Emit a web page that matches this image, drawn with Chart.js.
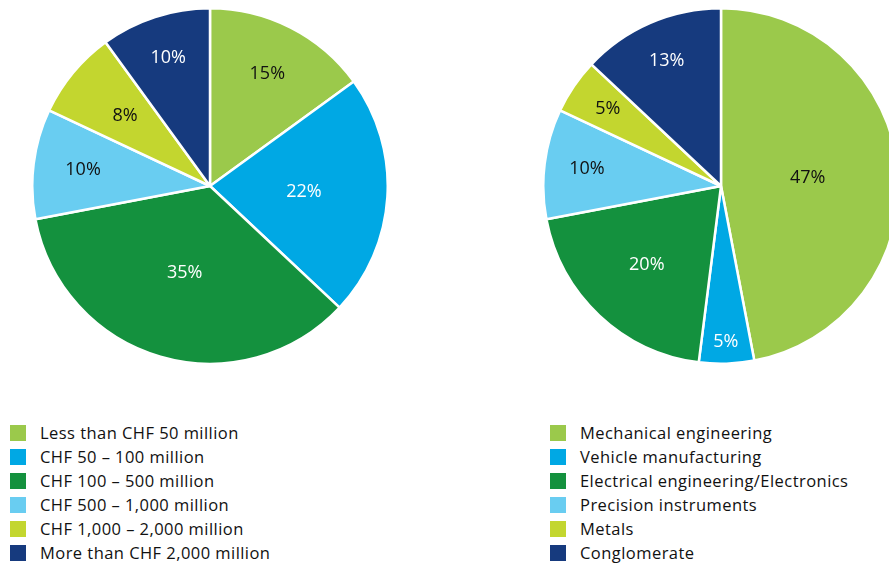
<!DOCTYPE html>
<html>
<head>
<meta charset="utf-8">
<script src="https://cdn.jsdelivr.net/npm/chart.js@4.4.1/dist/chart.umd.min.js"></script>
<style>
  html, body { margin: 0; padding: 0; background: #fff; }
  body { width: 889px; height: 566px; overflow: hidden; position: relative; font-family: "Open Sans", sans-serif; }
  .pie { position: absolute; top: 7px; width: 358px; height: 358px; }
  .legend { position: absolute; top: 423px; margin: 0; padding: 0; list-style: none; }
  .legend li { height: 24px; line-height: 20px; font-size: 16.5px; font-weight: 500; letter-spacing: 0.45px; color: #111; white-space: nowrap; position: relative; padding-left: 30px; }
  .legend li span { position: absolute; left: 0; top: 2px; width: 16px; height: 16px; }
</style>
</head>
<body>
<div class="pie" style="left:31px"><canvas id="sizeChart"></canvas></div>
<div class="pie" style="left:542px"><canvas id="sectorChart"></canvas></div>
<ul class="legend" id="sizeLegend" style="left:10px"></ul>
<ul class="legend" id="sectorLegend" style="left:550px"></ul>
<script>
const colors = ["#9bc94b", "#00a8e4", "#14913e", "#69cdf1", "#c3d62f", "#163a7e"];
const labelColors = ["#111", "#fff", "#fff", "#111", "#111", "#fff"];

const sizeLabels = [
  "Less than CHF 50 million",
  "CHF 50 – 100 million",
  "CHF 100 – 500 million",
  "CHF 500 – 1,000 million",
  "CHF 1,000 – 2,000 million",
  "More than CHF 2,000 million",
];
const sizeValues = [15, 22, 35, 10, 8, 10];

const sectorLabels = [
  "Mechanical engineering",
  "Vehicle manufacturing",
  "Electrical engineering/Electronics",
  "Precision instruments",
  "Metals",
  "Conglomerate",
];
const sectorValues = [47, 5, 20, 10, 5, 13];

// percent labels inside the slices, distance as a share of the radius
const sliceLabels = {
  id: "sliceLabels",
  afterDatasetsDraw(chart, args, opts) {
    const ctx = chart.ctx;
    const meta = chart.getDatasetMeta(0);
    const values = chart.data.datasets[0].data;
    ctx.save();
    ctx.font = "500 18px 'Open Sans', sans-serif";
    ctx.textAlign = "center";
    ctx.textBaseline = "middle";
    meta.data.forEach((arc, i) => {
      const p = arc.getProps(["x", "y", "startAngle", "endAngle", "outerRadius"], true);
      const mid = (p.startAngle + p.endAngle) / 2;
      const r = p.outerRadius * opts.dist[i];
      ctx.fillStyle = labelColors[i];
      ctx.fillText(values[i] + "%", p.x + Math.cos(mid) * r, p.y + Math.sin(mid) * r);
    });
    ctx.restore();
  },
};

function makePie(id, labels, values, dist) {
  new Chart(document.getElementById(id), {
    type: "pie",
    data: {
      labels: labels,
      datasets: [{
        data: values,
        backgroundColor: colors,
        borderColor: "#fff",
        borderWidth: 2.5,
      }],
    },
    options: {
      responsive: true,
      maintainAspectRatio: false,
      animation: false,
      layout: { padding: 0 },
      plugins: {
        legend: { display: false },
        tooltip: { enabled: false },
        sliceLabels: { dist: dist },
      },
    },
    plugins: [sliceLabels],
  });
}

function makeLegend(id, labels) {
  const ul = document.getElementById(id);
  labels.forEach((t, i) => {
    const li = document.createElement("li");
    li.innerHTML = `<span style="background:${colors[i]}"></span>`;
    li.appendChild(document.createTextNode(t));
    ul.appendChild(li);
  });
}

makePie("sizeChart", sizeLabels, sizeValues, [0.71, 0.53, 0.51, 0.72, 0.62, 0.76]);
makePie("sectorChart", sectorLabels, sectorValues, [0.49, 0.88, 0.61, 0.76, 0.77, 0.77]);
makeLegend("sizeLegend", sizeLabels);
makeLegend("sectorLegend", sectorLabels);
</script>
</body>
</html>
